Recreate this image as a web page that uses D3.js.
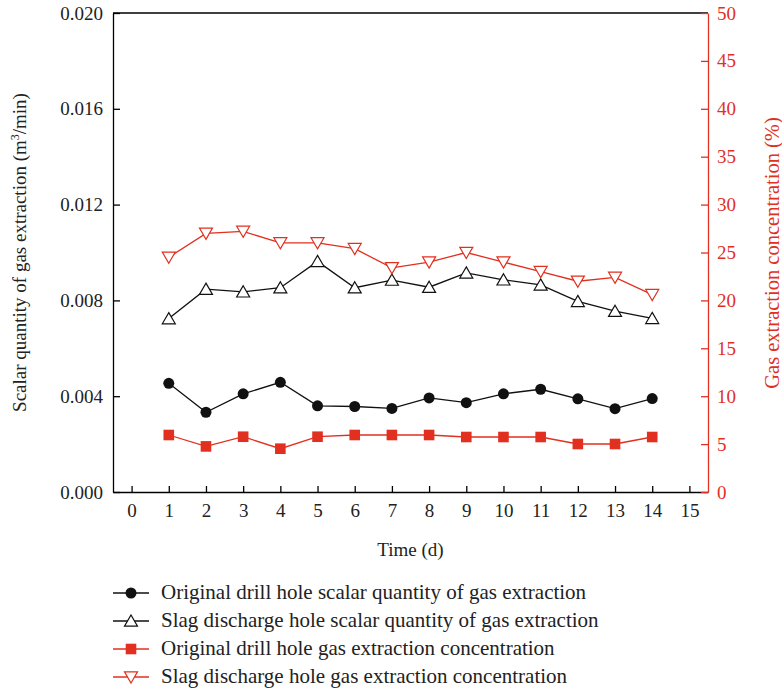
<!DOCTYPE html>
<html lang="en">
<head>
<meta charset="utf-8">
<title>Gas extraction</title>
<script src="https://d3js.org/d3.v7.min.js"></script>
<style>
  body { margin: 0; background: #fff; }
  text { font-family: "Liberation Serif", "DejaVu Serif", serif; }
</style>
</head>
<body>
<script>
// data
var days = [1, 2, 3, 4, 5, 6, 7, 8, 9, 10, 11, 12, 13, 14];
var origScalar = [0.00454, 0.00333, 0.0041, 0.00458, 0.0036, 0.00357, 0.00349, 0.00393, 0.00373, 0.0041, 0.00429, 0.00389, 0.00348, 0.0039];
var slagScalar = [0.00724, 0.00847, 0.00836, 0.00853, 0.00963, 0.00853, 0.00885, 0.00855, 0.00915, 0.00886, 0.00865, 0.00796, 0.00755, 0.00725];
var origConc = [5.95, 4.76, 5.77, 4.52, 5.77, 5.95, 5.95, 5.95, 5.74, 5.74, 5.74, 5.01, 5.01, 5.74];
var slagConc = [24.5, 27.0, 27.2, 26.0, 26.0, 25.4, 23.4, 24.0, 25.0, 24.0, 23.0, 22.0, 22.4, 20.6];
var xTicks = d3.range(0, 16);
var yLeftTicks = [0, 0.004, 0.008, 0.012, 0.016, 0.020];
var yRightTicks = d3.range(0, 55, 5);
var labels = [
  "Original drill hole scalar quantity of gas extraction",
  "Slag discharge hole scalar quantity of gas extraction",
  "Original drill hole gas extraction concentration",
  "Slag discharge hole gas extraction concentration"
];

var w = 782, h = 690;
var mLeft = 113, mRight = 708, mTop = 13, mBottom = 492;
var red = "#e1301f";

var svg = d3.select("body").append("svg").attr("width", w).attr("height", h);

var x = d3.scaleLinear().domain([-0.5, 15.5]).range([mLeft, mRight]);
var yL = d3.scaleLinear().domain([0, 0.020]).range([mBottom, mTop]);
var yR = d3.scaleLinear().domain([0, 50]).range([mBottom, mTop]);

// top frame line
svg.append("line").attr("x1", mLeft).attr("x2", mRight).attr("y1", mTop).attr("y2", mTop)
   .attr("stroke", "#000").attr("stroke-width", 1.3);

// axes
var gx = svg.append("g").attr("transform", "translate(0," + mBottom + ")")
  .call(d3.axisBottom(x).tickValues(xTicks).tickSizeInner(-6).tickSizeOuter(0).tickPadding(12));
var gl = svg.append("g").attr("transform", "translate(" + mLeft + ",0)")
  .call(d3.axisLeft(yL).tickValues(yLeftTicks).tickFormat(d3.format(".3f")).tickSizeInner(-7).tickSizeOuter(0).tickPadding(10));
var gr = svg.append("g").attr("transform", "translate(" + mRight + ",0)")
  .call(d3.axisRight(yR).tickValues(yRightTicks).tickSizeInner(-7).tickSizeOuter(0).tickPadding(9));

[gx, gl, gr].forEach(function(g) {
  g.selectAll("text").attr("font-size", "19px").attr("font-family", "Liberation Serif, serif");
  g.selectAll("path, line").attr("stroke-width", 1.3);
});
gx.selectAll("text").attr("fill", "#222");
gl.selectAll("text").attr("fill", "#222");
gr.selectAll("path, line").attr("stroke", red);
gr.selectAll("text").attr("fill", red);

// axis titles
svg.append("text").attr("x", (mLeft + mRight) / 2).attr("y", 556)
   .attr("text-anchor", "middle").attr("font-size", "19px").attr("fill", "#222").text("Time (d)");

var lt = svg.append("text").attr("transform", "translate(26," + (mTop + mBottom) / 2 + ") rotate(-90)")
   .attr("text-anchor", "middle").attr("font-size", "19px").attr("fill", "#222");
lt.append("tspan").text("Scalar quantity of gas extraction (m");
lt.append("tspan").attr("dy", -7).attr("font-size", "12px").text("3");
lt.append("tspan").attr("dy", 7).text("/min)");

svg.append("text").attr("transform", "translate(779,253) rotate(-90)")
   .attr("text-anchor", "middle").attr("font-size", "20.5px").attr("fill", red)
   .text("Gas extraction concentration (%)");

// series
var series = [
  { vals: origScalar, y: yL, color: "#111", sym: "circle" },
  { vals: slagScalar, y: yL, color: "#111", sym: "up" },
  { vals: origConc, y: yR, color: red, sym: "square" },
  { vals: slagConc, y: yR, color: red, sym: "down" }
];

function marker(g, sym, color, cx, cy) {
  if (sym === "circle") {
    g.append("circle").attr("cx", cx).attr("cy", cy).attr("r", 5.5).attr("fill", "#111");
  } else if (sym === "square") {
    g.append("rect").attr("x", cx - 5.3).attr("y", cy - 5.3).attr("width", 10.6).attr("height", 10.6).attr("fill", color);
  } else if (sym === "up") {
    g.append("path").attr("d", "M" + cx + "," + (cy - 6) + "L" + (cx + 6.5) + "," + (cy + 5.2) + "L" + (cx - 6.5) + "," + (cy + 5.2) + "Z")
     .attr("fill", "#fff").attr("stroke", color).attr("stroke-width", 1.2);
  } else {
    g.append("path").attr("d", "M" + cx + "," + (cy + 6) + "L" + (cx + 6.5) + "," + (cy - 5.2) + "L" + (cx - 6.5) + "," + (cy - 5.2) + "Z")
     .attr("fill", "#fff").attr("stroke", color).attr("stroke-width", 1.2);
  }
}

series.forEach(function(s) {
  var line = d3.line().x(function(d, i) { return x(days[i]); }).y(function(d) { return s.y(d); });
  svg.append("path").datum(s.vals).attr("d", line)
     .attr("fill", "none").attr("stroke", s.color).attr("stroke-width", 1.3);
  var g = svg.append("g");
  s.vals.forEach(function(d, i) { marker(g, s.sym, s.color, x(days[i]), s.y(d)); });
});

// legend
var lg = svg.append("g");
labels.forEach(function(t, i) {
  var ly = 593 + i * 28;
  var s = series[i];
  lg.append("line").attr("x1", 113).attr("x2", 149).attr("y1", ly).attr("y2", ly)
    .attr("stroke", s.color).attr("stroke-width", 1.3);
  marker(lg, s.sym, s.color, 131, ly);
  lg.append("text").attr("x", 161).attr("y", ly + 6).attr("font-size", "21px").attr("fill", "#222").text(t);
});
</script>
</body>
</html>
